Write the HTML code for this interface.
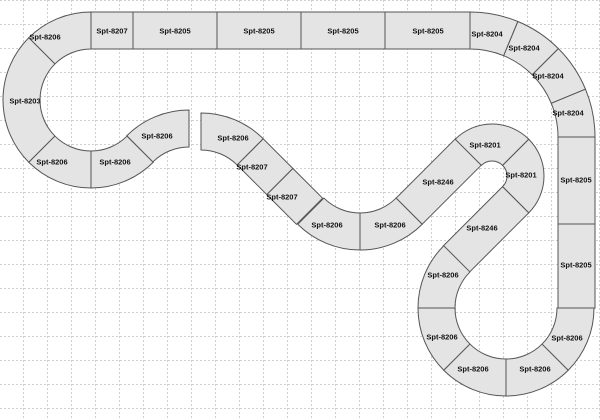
<!DOCTYPE html>
<html><head><meta charset="utf-8"><style>
html,body{margin:0;padding:0;background:#fff;}
svg{display:block;}
text{font-family:"Liberation Sans",sans-serif;font-size:7.5px;font-weight:bold;fill:#111;text-anchor:middle;dominant-baseline:central;}
</style></head><body>
<svg id="s" width="600" height="420" viewBox="0 0 600 420" xmlns="http://www.w3.org/2000/svg">
<defs><pattern id="g" width="24" height="24" patternUnits="userSpaceOnUse">
<path d="M23.5 0V24M0 0.5H24" stroke="#cfcfcf" stroke-width="1" stroke-dasharray="2,2" fill="none"/></pattern></defs>
<rect width="600" height="420" fill="url(#g)"/>
<g id="trk" fill="#e4e4e4" stroke="#555" stroke-width="1">
<rect x="91" y="12" width="42" height="37"/>
<rect x="133" y="12" width="84" height="37"/>
<rect x="217" y="12" width="84" height="37"/>
<rect x="301" y="12" width="84" height="37"/>
<rect x="385" y="12" width="85" height="37"/>
<rect x="558" y="137" width="37" height="87"/>
<rect x="558" y="224" width="37" height="84"/>
<polygon points="263.2,138.8 292.9,168.5 266.8,194.6 237.1,164.9"/>
<polygon points="292.9,168.5 322.6,198.2 296.5,224.3 266.8,194.6"/>
<polygon points="422.2,224.2 481.6,164.8 455.5,138.7 396.1,198.1"/>
<polygon points="528.8,212.8 469.4,272.2 443.2,246 502.6,186.6"/>
</g>
<g id="lbl">
<text x="45" y="37">Spt-8206</text>
<text x="112" y="31">Spt-8207</text>
<text x="175" y="31">Spt-8205</text>
<text x="259" y="31">Spt-8205</text>
<text x="343" y="31">Spt-8205</text>
<text x="428" y="31">Spt-8205</text>
<text x="487" y="34">Spt-8204</text>
<text x="524" y="48">Spt-8204</text>
<text x="548" y="76">Spt-8204</text>
<text x="568" y="113">Spt-8204</text>
<text x="25" y="101">Spt-8203</text>
<text x="52" y="162">Spt-8206</text>
<text x="115" y="162">Spt-8206</text>
<text x="157" y="136">Spt-8206</text>
<text x="233" y="138">Spt-8206</text>
<text x="252" y="167">Spt-8207</text>
<text x="282" y="197">Spt-8207</text>
<text x="327" y="225">Spt-8206</text>
<text x="390" y="225">Spt-8206</text>
<text x="438" y="182">Spt-8246</text>
<text x="485" y="145">Spt-8201</text>
<text x="521" y="175">Spt-8201</text>
<text x="482" y="228">Spt-8246</text>
<text x="443" y="275">Spt-8206</text>
<text x="442" y="337">Spt-8206</text>
<text x="473" y="369">Spt-8206</text>
<text x="535" y="369">Spt-8206</text>
<text x="567" y="338">Spt-8206</text>
<text x="576" y="180">Spt-8205</text>
<text x="576" y="265">Spt-8205</text>
</g>
</svg>
<script>
(function(){
var segs=[
[91,100,51,88,225,270],[91,100,51,88,135,225],[91,100,51,88,90,135],[91,100,51,88,45,90],
[189,198,51,88,225,270],
[201,201,51,88,270,315],
[360,162,51,88,90,135],[360,162,51,88,45,90],
[492,176,15,52,225,315],[492,176,15,52,315,405],
[506,308,51,88,180,225],[506,308,51,88,135,180],[506,308,51,88,90,135],[506,308,51,88,45,90],[506,308,51,88,0,45],
[470,137,88,125,270,292.5],[470,137,88,125,292.5,315],[470,137,88,125,315,337.5],[470,137,88,125,337.5,360]
];
var g=document.getElementById('trk');
function p(cx,cy,r,a){a=a*Math.PI/180;return (cx+r*Math.cos(a)).toFixed(2)+' '+(cy+r*Math.sin(a)).toFixed(2);}
segs.forEach(function(s){
var cx=s[0],cy=s[1],r1=s[2],r2=s[3],a1=s[4],a2=s[5];
var lg=(a2-a1)>180?1:0;
var d='M'+p(cx,cy,r2,a1)+' A'+r2+' '+r2+' 0 '+lg+' 1 '+p(cx,cy,r2,a2)+' L'+p(cx,cy,r1,a2)+' A'+r1+' '+r1+' 0 '+lg+' 0 '+p(cx,cy,r1,a1)+' Z';
var e=document.createElementNS('http://www.w3.org/2000/svg','path');
e.setAttribute('d',d);g.appendChild(e);
});
})();
</script>
</body></html>
